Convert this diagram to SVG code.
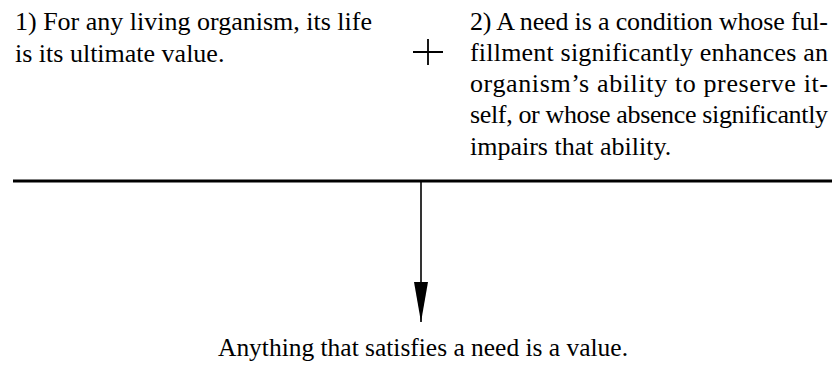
<svg xmlns="http://www.w3.org/2000/svg" width="832" height="365" viewBox="0 0 832 365">
<style>
text{font-family:"Liberation Serif","Times New Roman",serif;font-size:26px;fill:#000}
.ln{stroke:#000;fill:none}
</style>
<defs>
<marker id="ah" markerWidth="40" markerHeight="14" refX="40" refY="7" orient="auto" markerUnits="userSpaceOnUse" viewBox="0 0 40 14">
<path d="M0,0 L40,7 L0,14 Z" fill="#000"/>
</marker>
</defs>
<rect width="832" height="365" fill="#fff"/>
<g id="premise1">
<text x="15" y="30">1) For any living organism, its life</text>
<text x="15" y="62">is its ultimate value.</text>
</g>
<g id="plus">
<path class="ln" d="M413,52 H443 M428,39 V65" stroke-width="1.8"/>
</g>
<g id="premise2">
<text x="470" y="30" textLength="358" lengthAdjust="spacing">2) A need is a condition whose ful-</text>
<text x="470" y="61" textLength="358" lengthAdjust="spacing">fillment significantly enhances an</text>
<text x="470" y="92" textLength="358" lengthAdjust="spacing">organism’s ability to preserve it-</text>
<text x="470" y="123" textLength="358" lengthAdjust="spacing">self, or whose absence significantly</text>
<text x="470" y="155">impairs that ability.</text>
</g>
<g id="connectors">
<path class="ln" d="M13,181 H832" stroke-width="3"/>
<path class="ln" d="M421,181 V322" stroke-width="1.6" marker-end="url(#ah)"/>
</g>
<g id="conclusion">
<text x="423" y="356" text-anchor="middle" textLength="410" lengthAdjust="spacingAndGlyphs">Anything that satisfies a need is a value.</text>
</g>
</svg>
